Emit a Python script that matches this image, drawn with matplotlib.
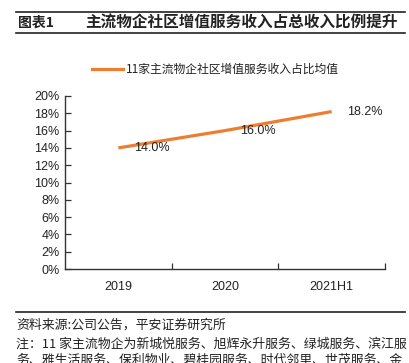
import matplotlib
matplotlib.use("Agg")
import matplotlib.pyplot as plt
from matplotlib.lines import Line2D
from matplotlib.ticker import FuncFormatter

# data
years = ["2019", "2020", "2021H1"]
share = [14.0, 16.0, 18.2]
series_name = "11家主流物企社区增值服务收入占比均值"
y_ticks = list(range(0, 21, 2))

orange = "#ED7D31"
cjk = ["Noto Sans CJK SC", "DejaVu Sans"]
latin = ["Liberation Sans", "DejaVu Sans"]

fig = plt.figure(figsize=(4.1, 3.63), dpi=100)
ax = fig.add_axes([65/410, 1-269/363, 320/410, 173/363])

x = list(range(len(years)))
ax.plot(x, share, color=orange, lw=2.3, solid_capstyle="butt")
for xi, v in zip(x, share):
    ax.annotate("%.1f%%" % v, (xi, v), xytext=(24, 0), textcoords="offset points",
                ha="center", va="center", fontsize=9, family=latin, color="#222222")

ax.set_xlim(-0.5, 2.5)
ax.set_ylim(0, 20)
ax.set_yticks(y_ticks)
ax.yaxis.set_major_formatter(FuncFormatter(lambda v, p: "%d%%" % v))
ax.set_xticks(x)
ax.set_xticklabels(years)
ax.set_xticks([0.5, 1.5, 2.5], minor=True)
ax.tick_params(axis="x", which="major", length=0, pad=9)
ax.tick_params(axis="x", which="minor", direction="in", length=4, width=0.9, color="#333333")
ax.tick_params(axis="y", direction="in", length=4, width=0.9, color="#333333", pad=4)
for lab in ax.get_xticklabels() + ax.get_yticklabels():
    lab.set_family(latin)
    lab.set_fontsize(9)
    lab.set_color("#222222")
for s in ["top", "right"]:
    ax.spines[s].set_visible(False)
for s in ["left", "bottom"]:
    ax.spines[s].set_color("#333333")
    ax.spines[s].set_linewidth(1.0)

# legend
fig.add_artist(Line2D([92/410, 123/410], [1-69/363]*2, color=orange, lw=2.3))
fig.text(126/410, 1-69/363, series_name, fontsize=8.5, family=cjk, va="center", color="#222222")

# title block
fig.add_artist(Line2D([16/410, 405/410], [1-12/363]*2, color="#222222", lw=1.2))
fig.add_artist(Line2D([16/410, 405/410], [1-33/363]*2, color="#222222", lw=1.2))
fig.text(18/410, 1-22.5/363, "图表1", fontsize=10, family=cjk, weight="bold", va="center", color="#222222")
fig.text(85/410, 1-22.5/363, "主流物企社区增值服务收入占总收入比例提升", fontsize=11.25,
         family=cjk, weight="bold", va="center", color="#222222")

# footer
fig.add_artist(Line2D([16/410, 405/410], [1-312/363]*2, color="#222222", lw=1.2))
fig.text(16/410, 1-325/363, "资料来源:公司公告，平安证券研究所", fontsize=9.3, family=cjk,
         style="italic", va="center", color="#222222")
fig.text(16/410, 1-344/363, "注：11 家主流物企为新城悦服务、旭辉永升服务、绿城服务、滨江服", fontsize=9.3,
         family=cjk, style="italic", va="center", color="#222222")
fig.text(16/410, 1-360/363, "务、雅生活服务、保利物业、碧桂园服务、时代邻里、世茂服务、金", fontsize=9.3,
         family=cjk, style="italic", va="center", color="#222222")

fig.savefig("out.png", dpi=100)
